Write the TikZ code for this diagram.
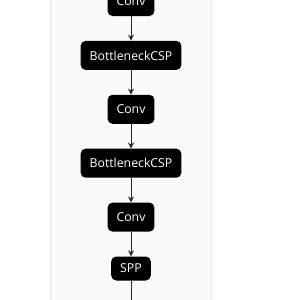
\documentclass[tikz,border=0pt]{standalone}
\usepackage{fontspec}
\setmainfont{Open Sans}
\usetikzlibrary{positioning,arrows.meta}
\definecolor{PanelGray}{RGB}{250,250,250}
\definecolor{PanelEdge}{RGB}{228,228,228}
\definecolor{WireGray}{RGB}{40,40,40}
\tikzset{
  layer/.style={fill=black,rounded corners=5pt,text=white,inner xsep=9pt,inner ysep=0pt,
    minimum height=29pt,font=\fontsize{12.3}{14}\selectfont},
  wire/.style={draw=WireGray,line width=1pt,-{Stealth[length=6pt,width=6pt]}},
}
\begin{document}
\begin{tikzpicture}[x=1pt,y=1pt,node distance=24.5pt]
\clip (0,0) rectangle (300,-300);
\fill[PanelGray] (50,0) rectangle (211.5,-300);
\draw[PanelEdge] (50,0)--(50,-300);\draw[PanelEdge] (211.5,0)--(211.5,-300);
% layers, top to bottom
\node[layer](conva) at (131,-1.5){Conv};
\node[layer,below=of conva](csp1){BottleneckCSP};
\node[layer,below=of csp1](convb){Conv};
\node[layer,below=of convb](csp2){BottleneckCSP};
\node[layer,below=of csp2](convc){Conv};
\node[layer,below=of convc,minimum height=24pt](spp){SPP};
\coordinate[below=30pt of spp](sppout);
% wires
\draw[wire](conva)--(csp1);\draw[wire](csp1)--(convb);
\draw[wire](convb)--(csp2);\draw[wire](csp2)--(convc);
\draw[wire](convc)--(spp);\draw[wire](spp)--(sppout);
\end{tikzpicture}
\end{document}
